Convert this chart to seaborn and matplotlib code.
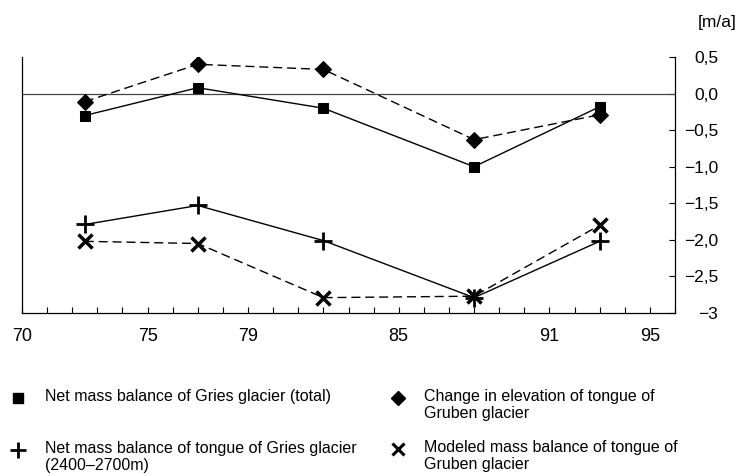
import matplotlib
matplotlib.use("Agg")
import matplotlib.pyplot as plt
from matplotlib.lines import Line2D
import seaborn as sns
import pandas as pd

# ---- data ----
period_mid = [72.5, 77, 82, 88, 93]
gries_total = [-0.30, 0.08, -0.20, -1.00, -0.18]
gruben_elev = [-0.11, 0.40, 0.33, -0.63, -0.29]
gries_tongue = [-1.79, -1.53, -2.01, -2.79, -2.02]
gruben_model = [-2.02, -2.05, -2.79, -2.77, -1.80]

x_ticks = [70, 75, 79, 85, 91, 95]
x_labels = ["70", "75", "79", "85", "91", "95"]
y_ticks = [0.5, 0.0, -0.5, -1.0, -1.5, -2.0, -2.5, -3.0]
y_labels = ["0,5", "0,0", "\u22120,5", "\u22121,0", "\u22121,5", "\u22122,0", "\u22122,5", "\u22123"]
unit_label = "[m/a]"

legend_labels = [
    "Net mass balance of Gries glacier (total)",
    "Net mass balance of tongue of Gries glacier\n(2400\u20132700m)",
    "Change in elevation of tongue of\nGruben glacier",
    "Modeled mass balance of tongue of\nGruben glacier",
]

sns.set_theme(style="white")
plt.rcParams["font.family"] = ["Liberation Sans", "DejaVu Sans"]

W, H = 746, 476
fig = plt.figure(figsize=(W / 100, H / 100), dpi=100)
ax = fig.add_axes([22 / W, 1 - 313 / H, (675 - 22) / W, (313 - 57) / H])

df = pd.DataFrame({
    "x": period_mid,
    "gries_total": gries_total,
    "gruben_elev": gruben_elev,
    "gries_tongue": gries_tongue,
    "gruben_model": gruben_model,
})

dash = (0, (6.5, 3.5))
ax.axhline(0, color="#444444", lw=0.9, zorder=1)

sns.lineplot(data=df, x="x", y="gries_total", ax=ax, color="black", lw=1.0,
             marker="s", markersize=7.5, markeredgecolor="black", markerfacecolor="black")
sns.lineplot(data=df, x="x", y="gruben_elev", ax=ax, color="black", lw=1.0, linestyle=dash,
             marker="D", markersize=8, markeredgecolor="black", markerfacecolor="black")
sns.lineplot(data=df, x="x", y="gries_tongue", ax=ax, color="black", lw=1.0,
             marker="+", markersize=13, markeredgewidth=2, markeredgecolor="black")
sns.lineplot(data=df, x="x", y="gruben_model", ax=ax, color="black", lw=1.0, linestyle=dash,
             marker="x", markersize=10, markeredgewidth=2.5, markeredgecolor="black")

ax.set_xlim(70, 96)
ax.set_ylim(-3, 0.5)
ax.set_xlabel("")
ax.set_ylabel("")

for side in ["left", "right", "bottom"]:
    ax.spines[side].set_visible(True)
    ax.spines[side].set_color("black")
    ax.spines[side].set_linewidth(0.9)
ax.spines["top"].set_visible(False)

ax.set_xticks(x_ticks, x_labels)
ax.set_xticks(list(range(70, 97)), minor=True)
ax.tick_params(axis="x", which="both", direction="in", length=4, width=0.8,
               color="black", bottom=True, top=False)
ax.tick_params(axis="x", which="major", labelsize=13, pad=11, labelcolor="black")

ax.yaxis.tick_right()
ax.set_yticks(y_ticks, y_labels)
ax.tick_params(axis="y", which="major", direction="in", length=4, width=0.8,
               color="black", right=True, left=False, labelsize=12.5, pad=31,
               labelcolor="black")
for lbl in ax.get_yticklabels():
    lbl.set_ha("right")

fig.text(737 / W, 1 - 22 / H, unit_label, ha="right", va="center", fontsize=12.5, color="black")

# ---- legend (manual) ----
items = [
    ("s", 7, 1.0, 18, 398),
    ("+", 12, 2.0, 18, 450),
    ("D", 7.5, 1.0, 398, 398),
    ("x", 8.5, 2.2, 398, 449),
]
text_x = [45, 45, 424, 424]
for (m, ms, mew, mx, my), tx, lab in zip(items, text_x, legend_labels):
    fig.add_artist(Line2D([mx / W], [1 - my / H], marker=m, markersize=ms,
                          markeredgewidth=mew, color="black", linestyle="none",
                          transform=fig.transFigure))
    fig.text(tx / W, 1 - (my - 9) / H, lab, ha="left", va="top", fontsize=11.5,
             color="black", linespacing=1.15)

fig.savefig("out.png", dpi=100)
